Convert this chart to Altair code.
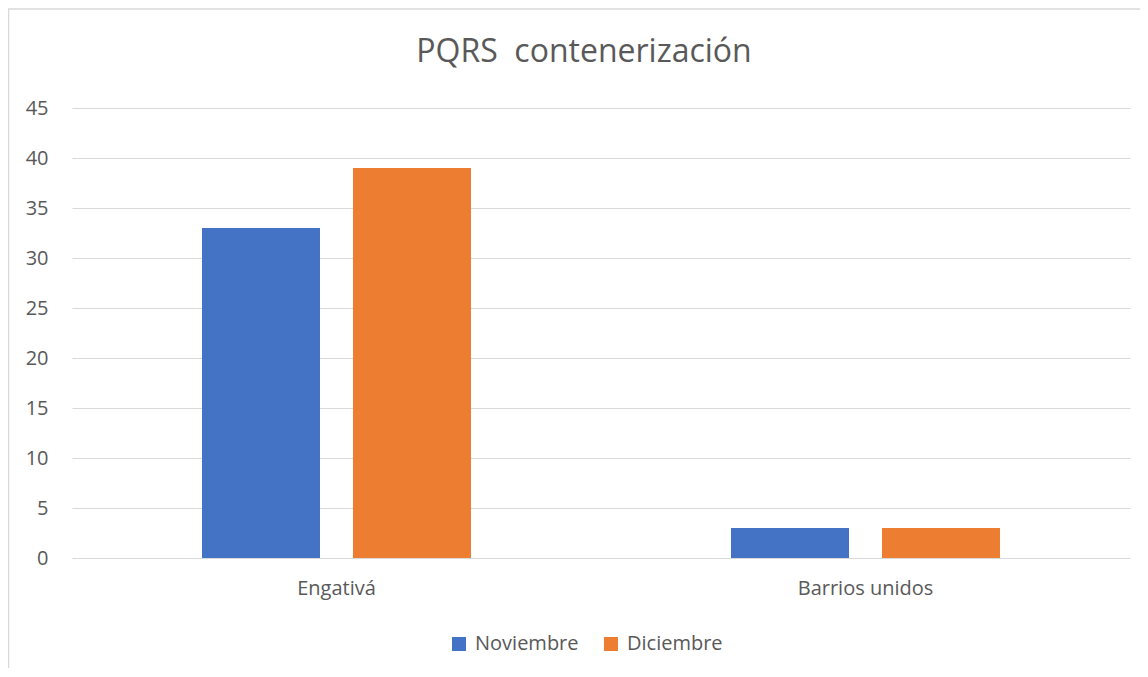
import altair as alt
import pandas as pd

regiones = ["Engativá", "Barrios unidos"]
meses = ["Noviembre", "Diciembre"]
noviembre = [33, 3]
diciembre = [39, 3]
colores = ["#4472C4", "#ED7D31"]
titulo = "PQRS\u00a0 contenerización"

rows = []
for i, r in enumerate(regiones):
    rows.append({"Region": r, "Mes": "Noviembre", "Valor": noviembre[i]})
    rows.append({"Region": r, "Mes": "Diciembre", "Valor": diciembre[i]})
df = pd.DataFrame(rows)

FONT = "Open Sans"
GREY = "#595959"
FS = 20

bars = alt.Chart(df).mark_bar().encode(
    x=alt.X("Region:N", sort=regiones, title=None,
            scale=alt.Scale(paddingInner=0, paddingOuter=0),
            axis=alt.Axis(labelAngle=0, domain=False, ticks=False, labelPadding=20,
                          labelFontSize=FS, labelColor=GREY, labelFont=FONT)),
    xOffset=alt.XOffset("Mes:N", sort=meses,
                        scale=alt.Scale(paddingInner=0.2185, paddingOuter=0.861)),
    y=alt.Y("Valor:Q", title=None,
            scale=alt.Scale(domain=[0, 45], nice=False),
            axis=alt.Axis(values=list(range(0, 50, 5)), domain=False, ticks=False,
                          gridColor="#d9d9d9", gridWidth=1, labelPadding=24,
                          labelFontSize=FS, labelColor=GREY, labelFont=FONT)),
    color=alt.Color("Mes:N", sort=meses,
                    scale=alt.Scale(domain=meses, range=colores),
                    legend=alt.Legend(title=None, orient="none", legendX=377, legendY=526,
                                      direction="horizontal", symbolType="square",
                                      symbolSize=196, symbolStrokeWidth=0,
                                      labelFontSize=FS, labelColor=GREY, labelFont=FONT,
                                      columnPadding=22, labelOffset=6)),
)

frame_left = alt.Chart(pd.DataFrame({"a": [0]})).mark_rule(color="#d9d9d9", strokeWidth=1.5).encode(
    x=alt.value(-63.5), y=alt.value(-99), y2=alt.value(600))
frame_top = alt.Chart(pd.DataFrame({"a": [0]})).mark_rule(color="#d9d9d9", strokeWidth=1.5).encode(
    x=alt.value(-64), x2=alt.value(1100), y=alt.value(-99))

chart = alt.layer(bars, frame_left, frame_top).properties(
    width=1058, height=450,
    title=alt.TitleParams(titulo, fontSize=32, font=FONT, color=GREY,
                          fontWeight="normal", anchor="middle", dx=-17, offset=-61),
    autosize=alt.AutoSizeParams(type="none"),
    padding={"left": 64, "top": 100, "right": 10, "bottom": 110},
).configure_view(stroke=None)

chart.save("out.html", embed_options={"renderer": "svg", "actions": False})
